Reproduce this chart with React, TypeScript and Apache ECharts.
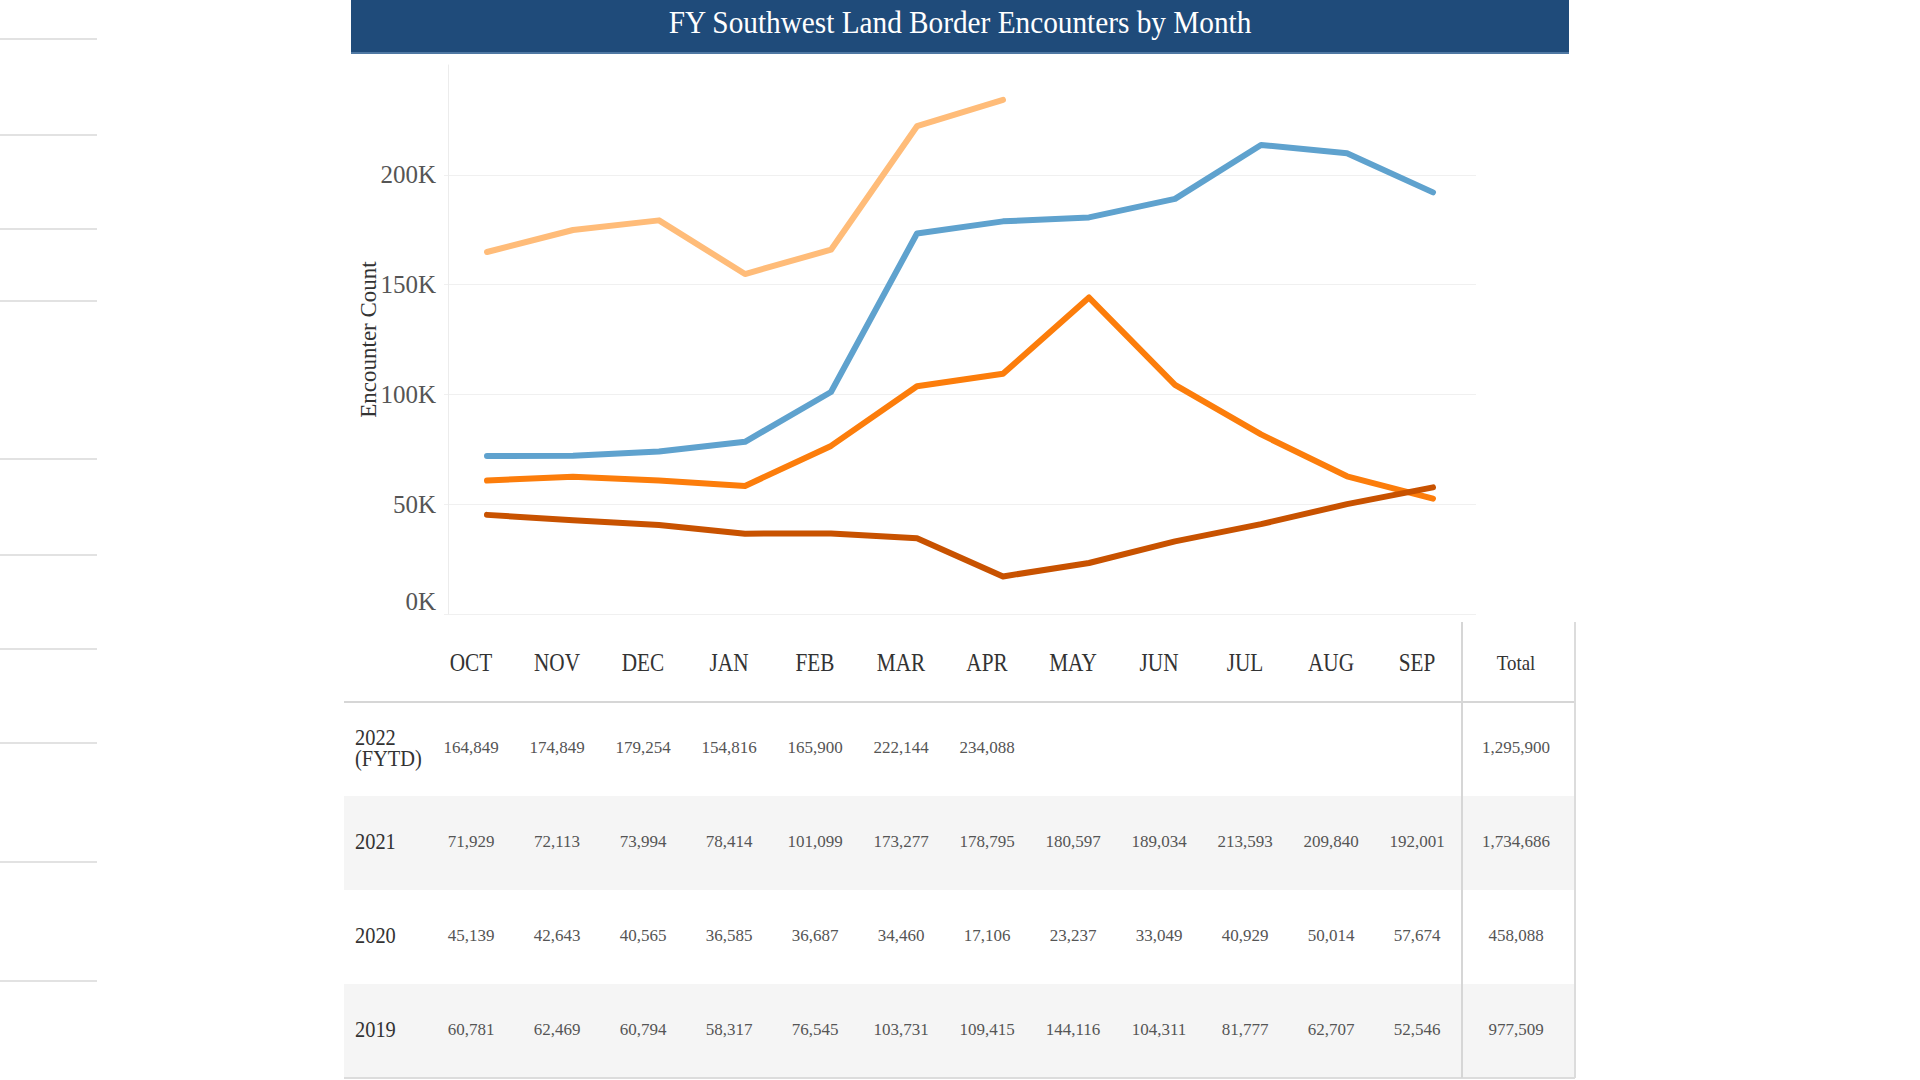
import React, { useEffect, useRef } from "react";
import * as echarts from "echarts";

const TITLE = "FY Southwest Land Border Encounters by Month";
const months = ["OCT", "NOV", "DEC", "JAN", "FEB", "MAR", "APR", "MAY", "JUN", "JUL", "AUG", "SEP"];
const seriesNames = ["2022 (FYTD)", "2021", "2020", "2019"];
const rowLabels = ["2022\n(FYTD)", "2021", "2020", "2019"];
const fy2022 = [164849, 174849, 179254, 154816, 165900, 222144, 234088];
const fy2021 = [71929, 72113, 73994, 78414, 101099, 173277, 178795, 180597, 189034, 213593, 209840, 192001];
const fy2020 = [45139, 42643, 40565, 36585, 36687, 34460, 17106, 23237, 33049, 40929, 50014, 57674];
const fy2019 = [60781, 62469, 60794, 58317, 76545, 103731, 109415, 144116, 104311, 81777, 62707, 52546];
const totals = [1295900, 1734686, 458088, 977509];
const seriesColors = ["#ffbc79", "#5fa2ce", "#c85200", "#fc7d0b"];
const leftRuleYs = [39, 135, 229, 301, 459, 555, 649, 743, 862, 981];

const FONT = "'Liberation Serif', 'Times New Roman', serif";

function fmt(n: number) {
  return n.toLocaleString("en-US");
}

function buildGraphics() {
  const g: any[] = [];
  // left decorative rules
  leftRuleYs.forEach((y) => {
    g.push({ type: "rect", silent: true, shape: { x: 0, y: y - 1, width: 97, height: 2 }, style: { fill: "#e2e2e2" } });
  });
  // title bar
  g.push({ type: "rect", silent: true, shape: { x: 351, y: 0, width: 1218, height: 54 }, style: { fill: "#1f4b7a" } });
  g.push({ type: "rect", silent: true, shape: { x: 351, y: 52, width: 1218, height: 2 }, style: { fill: "#4f78a3" } });
  g.push({
    type: "text", silent: true, x: 960, y: 23, scaleX: 0.915,
    style: { text: TITLE, fill: "#ffffff", fontSize: 32, fontFamily: FONT, align: "center", verticalAlign: "middle", textAlign: "center", textVerticalAlign: "middle" },
  });

  // table
  const L = 344, R = 1575, divX = 1462, hTop = 622, hBot = 702, rowH = 94;
  const colX = (i: number) => 471 + i * 86;
  const totalX = 1516;
  const tables = [fy2022, fy2021, fy2020, fy2019];
  tables.forEach((_, r) => {
    if (r % 2 === 1) {
      g.push({ type: "rect", silent: true, shape: { x: L, y: hBot + r * rowH, width: R - L, height: rowH }, style: { fill: "#f5f5f5" } });
    }
  });
  g.push({ type: "rect", silent: true, shape: { x: L, y: hBot - 1, width: R - L, height: 2 }, style: { fill: "#d6d6d6" } });
  g.push({ type: "rect", silent: true, shape: { x: L, y: hBot + 4 * rowH - 1, width: R - L, height: 2 }, style: { fill: "#dcdcdc" } });
  g.push({ type: "rect", silent: true, shape: { x: divX - 1, y: hTop, width: 2, height: hBot + 4 * rowH - hTop }, style: { fill: "#d6d6d6" } });
  g.push({ type: "rect", silent: true, shape: { x: R - 1, y: hTop, width: 2, height: hBot + 4 * rowH - hTop }, style: { fill: "#dcdcdc" } });

  // header
  months.forEach((m, i) => {
    g.push({
      type: "text", silent: true, x: colX(i), y: 662, scaleX: 0.85,
      style: { text: m, fill: "#333333", fontSize: 25, fontFamily: FONT, align: "center", verticalAlign: "middle", textAlign: "center", textVerticalAlign: "middle" },
    });
  });
  g.push({
    type: "text", silent: true, x: totalX, y: 663, scaleX: 0.9,
    style: { text: "Total", fill: "#333333", fontSize: 21, fontFamily: FONT, align: "center", verticalAlign: "middle", textAlign: "center", textVerticalAlign: "middle" },
  });

  // rows
  tables.forEach((vals, r) => {
    const cy = hBot + r * rowH + 45;
    g.push({
      type: "text", silent: true, x: 355, y: cy, scaleX: 0.85,
      style: { text: rowLabels[r], fill: "#333333", fontSize: 24, lineHeight: 21, fontFamily: FONT, align: "left", verticalAlign: "middle", textAlign: "left", textVerticalAlign: "middle" },
    });
    vals.forEach((v, i) => {
      g.push({
        type: "text", silent: true, x: colX(i), y: cy,
        style: { text: fmt(v), fill: "#555555", fontSize: 17, fontFamily: FONT, align: "center", verticalAlign: "middle", textAlign: "center", textVerticalAlign: "middle" },
      });
    });
    g.push({
      type: "text", silent: true, x: totalX, y: cy,
      style: { text: fmt(totals[r]), fill: "#555555", fontSize: 17, fontFamily: FONT, align: "center", verticalAlign: "middle", textAlign: "center", textVerticalAlign: "middle" },
    });
  });
  return g;
}

export default function App() {
  const ref = useRef<HTMLDivElement>(null);
  useEffect(() => {
    if (!ref.current) return;
    const chart = echarts.init(ref.current, undefined, { renderer: "svg" });
    const data = [fy2022, fy2021, fy2020, fy2019];
    const order = [3, 2, 1, 0];
    chart.setOption({
      animation: false,
      backgroundColor: "#ffffff",
      grid: { left: 444, right: 1920 - 1476, top: 65, bottom: 1080 - 614, containLabel: false },
      xAxis: {
        type: "category",
        data: months,
        boundaryGap: true,
        axisLine: { show: false },
        axisTick: { show: false },
        axisLabel: { show: false },
        splitLine: { show: false },
      },
      yAxis: {
        type: "value",
        min: 0,
        max: 250000,
        interval: 50000,
        offset: -4,
        name: "Encounter Count",
        nameLocation: "middle",
        nameRotate: 90,
        nameGap: 68,
        nameMoveOverlap: false,
        nameTextStyle: { fontFamily: FONT, fontSize: 23, color: "#333333" },
        axisLine: { show: true, lineStyle: { color: "#ececec", width: 1 } },
        axisTick: { show: false },
        axisLabel: {
          fontFamily: FONT,
          fontSize: 25,
          color: "#555555",
          margin: 12,
          showMaxLabel: false,
          verticalAlignMinLabel: "bottom",
          formatter: (v: number) => `${Math.round(v / 1000)}K`,
        },
        splitLine: { show: true, showMaxLine: false, lineStyle: { color: "#f0f0f0", width: 1 } },
      },
      series: order.map((idx) => ({
        name: seriesNames[idx],
        type: "line",
        data: data[idx],
        symbol: "none",
        smooth: false,
        lineStyle: { color: seriesColors[idx], width: 6, cap: "round", join: "round" },
        itemStyle: { color: seriesColors[idx] },
        z: 2,
      })),
      graphic: buildGraphics(),
    });
    return () => chart.dispose();
  }, []);
  return <div ref={ref} style={{ position: "absolute", left: 0, top: 0, width: 1920, height: 1080 }} />;
}
